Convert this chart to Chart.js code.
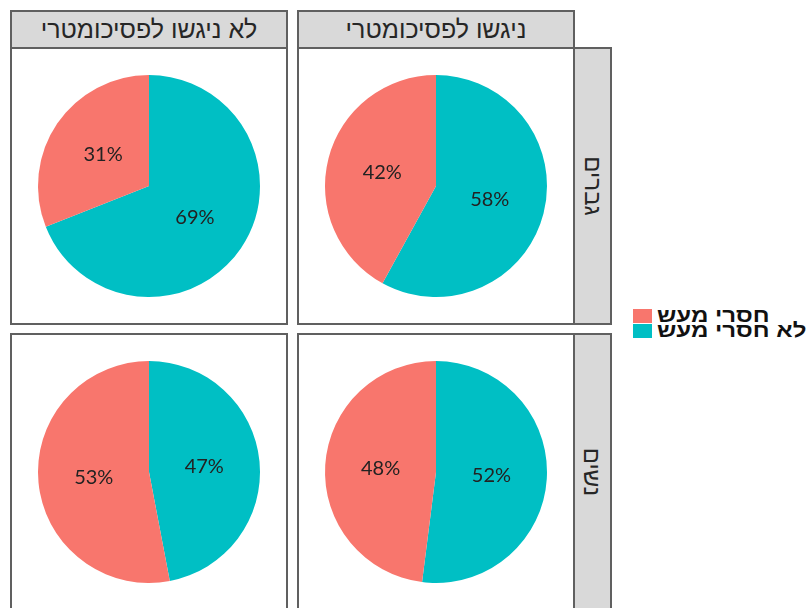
<!DOCTYPE html>
<html lang="he">
<head>
<meta charset="utf-8">
<script src="https://cdn.jsdelivr.net/npm/chart.js@4"></script>
<style>
  html, body { margin: 0; padding: 0; background: #fff; }
  body { width: 808px; height: 608px; position: relative; overflow: hidden; font-family: "Liberation Sans", Arial, sans-serif; }
  .box { position: absolute; box-sizing: border-box; border: 2px solid #606060; }
  .strip { background: #d9d9d9; color: #262626; font-size: 25px; display: flex; align-items: center; justify-content: center; }
  .panel { background: #fff; }
  .panel canvas { position: absolute; left: -2px; top: -2px; }
  .rot { transform: rotate(90deg); white-space: nowrap; font-size: 24px; }
  .key { position: absolute; width: 19px; height: 14px; }
  .ltext { position: absolute; left: 657px; font-weight: bold; font-size: 20px; color: #111; white-space: nowrap; direction: rtl; line-height: 15px; transform: scaleX(1.2); transform-origin: left center; }
</style>
</head>
<body>
<script>
// facet labels
const columnLabels = ['לא ניגשו לפסיכומטרי', 'ניגשו לפסיכומטרי'];
const rowLabels = ['גברים', 'נשים'];

// slice order: clockwise from 12 o'clock
const categories = ['לא חסרי מעש', 'חסרי מעש'];
const sliceColors = ['#00BFC4', '#F8766D'];

// percent values per panel [לא חסרי מעש, חסרי מעש]
const menNotTaken = [69, 31];
const menTaken = [58, 42];
const womenNotTaken = [47, 53];
const womenTaken = [52, 48];

const panelData = [
    [menNotTaken, menTaken],
    [womenNotTaken, womenTaken]
];

// legend order as shown
const legendLabels = ['חסרי מעש', 'לא חסרי מעש'];
const legendColors = ['#F8766D', '#00BFC4'];

const colX = [10, 297];
const rowY = [47, 333];
const PANEL = 278;

function addBox(cls, x, y, w, h) {
    const d = document.createElement('div');
    d.className = 'box ' + cls;
    d.style.left = x + 'px';
    d.style.top = y + 'px';
    d.style.width = w + 'px';
    d.style.height = h + 'px';
    document.body.appendChild(d);
    return d;
}

// draw percent labels at the middle of each slice
const pctLabels = {
    id: 'pctLabels',
    afterDatasetsDraw(chart) {
        const ctx = chart.ctx;
        const meta = chart.getDatasetMeta(0);
        ctx.save();
        ctx.font = '20px Lato, "Open Sans", sans-serif';
        ctx.fillStyle = '#222';
        ctx.textAlign = 'center';
        ctx.textBaseline = 'middle';
        meta.data.forEach((arc, i) => {
            const p = arc.getCenterPoint();
            ctx.fillText(chart.data.datasets[0].data[i] + '%', p.x, p.y);
        });
        ctx.restore();
    }
};

// column strips
columnLabels.forEach((label, c) => {
    const s = addBox('strip', colX[c], 10, PANEL, 39);
    s.textContent = label;
    s.style.direction = 'rtl';
});

rowLabels.forEach((label, r) => {
    // row strip on the right, sharing the panel's right border
    const s = addBox('strip', 573, rowY[r], 39, PANEL);
    const t = document.createElement('span');
    t.className = 'rot';
    t.textContent = label;
    s.appendChild(t);

    columnLabels.forEach((_, c) => {
        const p = addBox('panel', colX[c], rowY[r], PANEL, PANEL);
        const canvas = document.createElement('canvas');
        canvas.width = PANEL;
        canvas.height = PANEL;
        p.appendChild(canvas);
        new Chart(canvas, {
            type: 'pie',
            data: {
                labels: categories,
                datasets: [{
                    data: panelData[r][c],
                    backgroundColor: sliceColors,
                    borderWidth: 0
                }]
            },
            options: {
                responsive: false,
                animation: false,
                layout: { padding: 28 },
                plugins: {
                    legend: { display: false },
                    tooltip: { enabled: false }
                }
            },
            plugins: [pctLabels]
        });
    });
});

// legend
legendLabels.forEach((label, i) => {
    const k = document.createElement('div');
    k.className = 'key';
    k.style.left = '633px';
    k.style.top = (309 + i * 15) + 'px';
    k.style.background = legendColors[i];
    document.body.appendChild(k);
    const t = document.createElement('div');
    t.className = 'ltext';
    t.style.top = (308 + i * 15) + 'px';
    t.textContent = label;
    document.body.appendChild(t);
});
</script>
</body>
</html>
